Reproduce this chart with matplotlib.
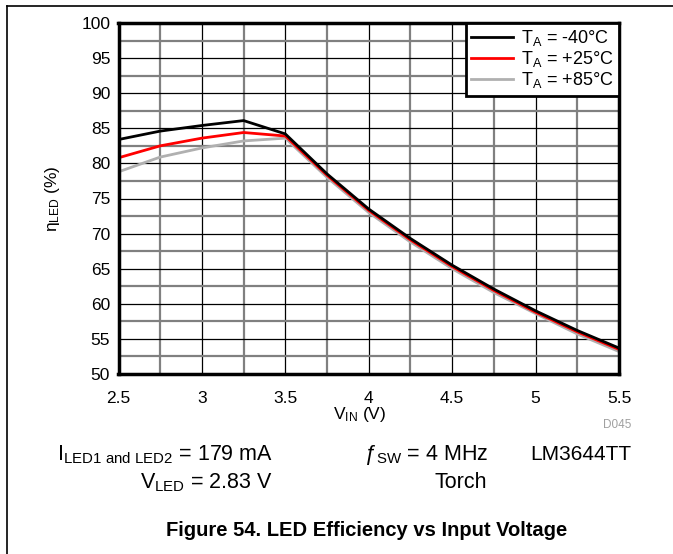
import numpy as np
import matplotlib
matplotlib.use("Agg")
import matplotlib.pyplot as plt
from matplotlib.lines import Line2D

plt.rcParams["font.family"] = ["Liberation Sans", "DejaVu Sans"]
plt.rcParams["mathtext.fontset"] = "custom"
plt.rcParams["mathtext.rm"] = "Liberation Sans"
plt.rcParams["mathtext.it"] = "Liberation Sans:italic"

# input voltage (V)
vin = [2.5, 2.75, 3.0, 3.25, 3.5, 3.75, 4.0, 4.25, 4.5, 4.75, 5.0, 5.25, 5.5]
# LED efficiency (%) per ambient temperature
eff_m40 = [83.4, 84.6, 85.4, 86.1, 84.2, 78.5, 73.5, 69.3, 65.5, 62.1, 59.0, 56.2, 53.7]
eff_p25 = [80.8, 82.5, 83.6, 84.4, 83.9, 78.3, 73.3, 69.1, 65.3, 61.9, 58.8, 56.0, 53.5]
eff_p85 = [78.8, 80.9, 82.2, 83.2, 83.6, 78.0, 73.0, 68.8, 65.0, 61.6, 58.6, 55.7, 53.2]

series = [
    (eff_m40, "black", r"$\mathregular{T_A}$ = -40°C"),
    (eff_p25, "#ff0000", r"$\mathregular{T_A}$ = +25°C"),
    (eff_p85, "#b0b0b0", r"$\mathregular{T_A}$ = +85°C"),
]

W, H = 673, 554
L, R, T, B = 118.5, 619, 23, 374
fig = plt.figure(figsize=(W / 100, H / 100), dpi=100)
ax = fig.add_axes([L / W, 1 - B / H, (R - L) / W, (B - T) / H])

# grid: minor lines gray & thicker, major lines thin black
for x in np.arange(2.75, 5.5, 0.5):
    ax.axvline(x, color="#808080", lw=1.6, zorder=0)
for x in np.arange(3.0, 5.5, 0.5):
    ax.axvline(x, color="black", lw=0.9, zorder=0)
for y in np.arange(52.5, 100, 5):
    ax.axhline(y, color="#808080", lw=1.6, zorder=0)
for y in np.arange(55, 100, 5):
    ax.axhline(y, color="black", lw=0.9, zorder=0)

for vals, col, lab in reversed(series):
    ax.plot(vin, vals, color=col, lw=2.0, zorder=3)

ax.set_xlim(2.5, 5.5)
ax.set_ylim(50, 100)
ax.set_xticks(np.arange(2.5, 5.51, 0.5))
ax.set_xticklabels(["2.5", "3", "3.5", "4", "4.5", "5", "5.5"])
ax.set_yticks(np.arange(50, 101, 5))
ax.tick_params(axis="x", length=0, labelsize=12.5, pad=12)
ax.tick_params(axis="y", length=0, labelsize=12.5, pad=6)
for s in ax.spines.values():
    s.set_linewidth(2.5)
    s.set_zorder(5)

ax.set_ylabel(r"$\mathregular{\eta_{LED}}$ (%)", fontsize=12.5, labelpad=14)

handles = [Line2D([], [], color=c, lw=2.0) for _, c, _ in series]
leg = ax.legend(handles, [l for _, _, l in series], loc="upper right",
                fontsize=13, frameon=True, fancybox=False, framealpha=1,
                edgecolor="black", borderpad=0.3, labelspacing=0.05,
                handlelength=2.3, handletextpad=0.45, borderaxespad=0.0)
leg.get_frame().set_linewidth(2.0)
leg.set_zorder(6)

# text below the plot
def px(x, y):
    return x / W, 1 - y / H

fig.text(*px(360, 414), r"$\mathregular{V_{IN}}$ (V)", fontsize=12.5, ha="center", va="center")
fig.text(*px(631, 425), "D045", fontsize=8.5, color="#a0a0a0", ha="right", va="center")
fig.text(*px(57, 455), r"$\mathregular{I_{LED1\ and\ LED2}}$ = 179 mA", fontsize=15.5,
         ha="left", va="center")
fig.text(*px(489, 455), r"$\mathregular{ƒ_{SW}}$ = 4 MHz", fontsize=15.5, ha="right", va="center")
fig.text(*px(631, 455), "LM3644TT", fontsize=15, ha="right", va="center")
fig.text(*px(273, 483), r"$\mathregular{V_{LED}}$ = 2.83 V", fontsize=15.5, ha="right", va="center")
fig.text(*px(461, 483), "Torch", fontsize=15.5, ha="center", va="center")
fig.text(*px(367, 531), "Figure 54. LED Efficiency vs Input Voltage", fontsize=14.5,
         fontweight="bold", ha="center", va="center")

# page border lines
fig.add_artist(Line2D([7 / W, 1], [1 - 6 / H, 1 - 6 / H], color="black", lw=1.2))
fig.add_artist(Line2D([7 / W, 7 / W], [0, 1 - 6 / H], color="black", lw=1.2))

fig.savefig("out.png", dpi=100)
